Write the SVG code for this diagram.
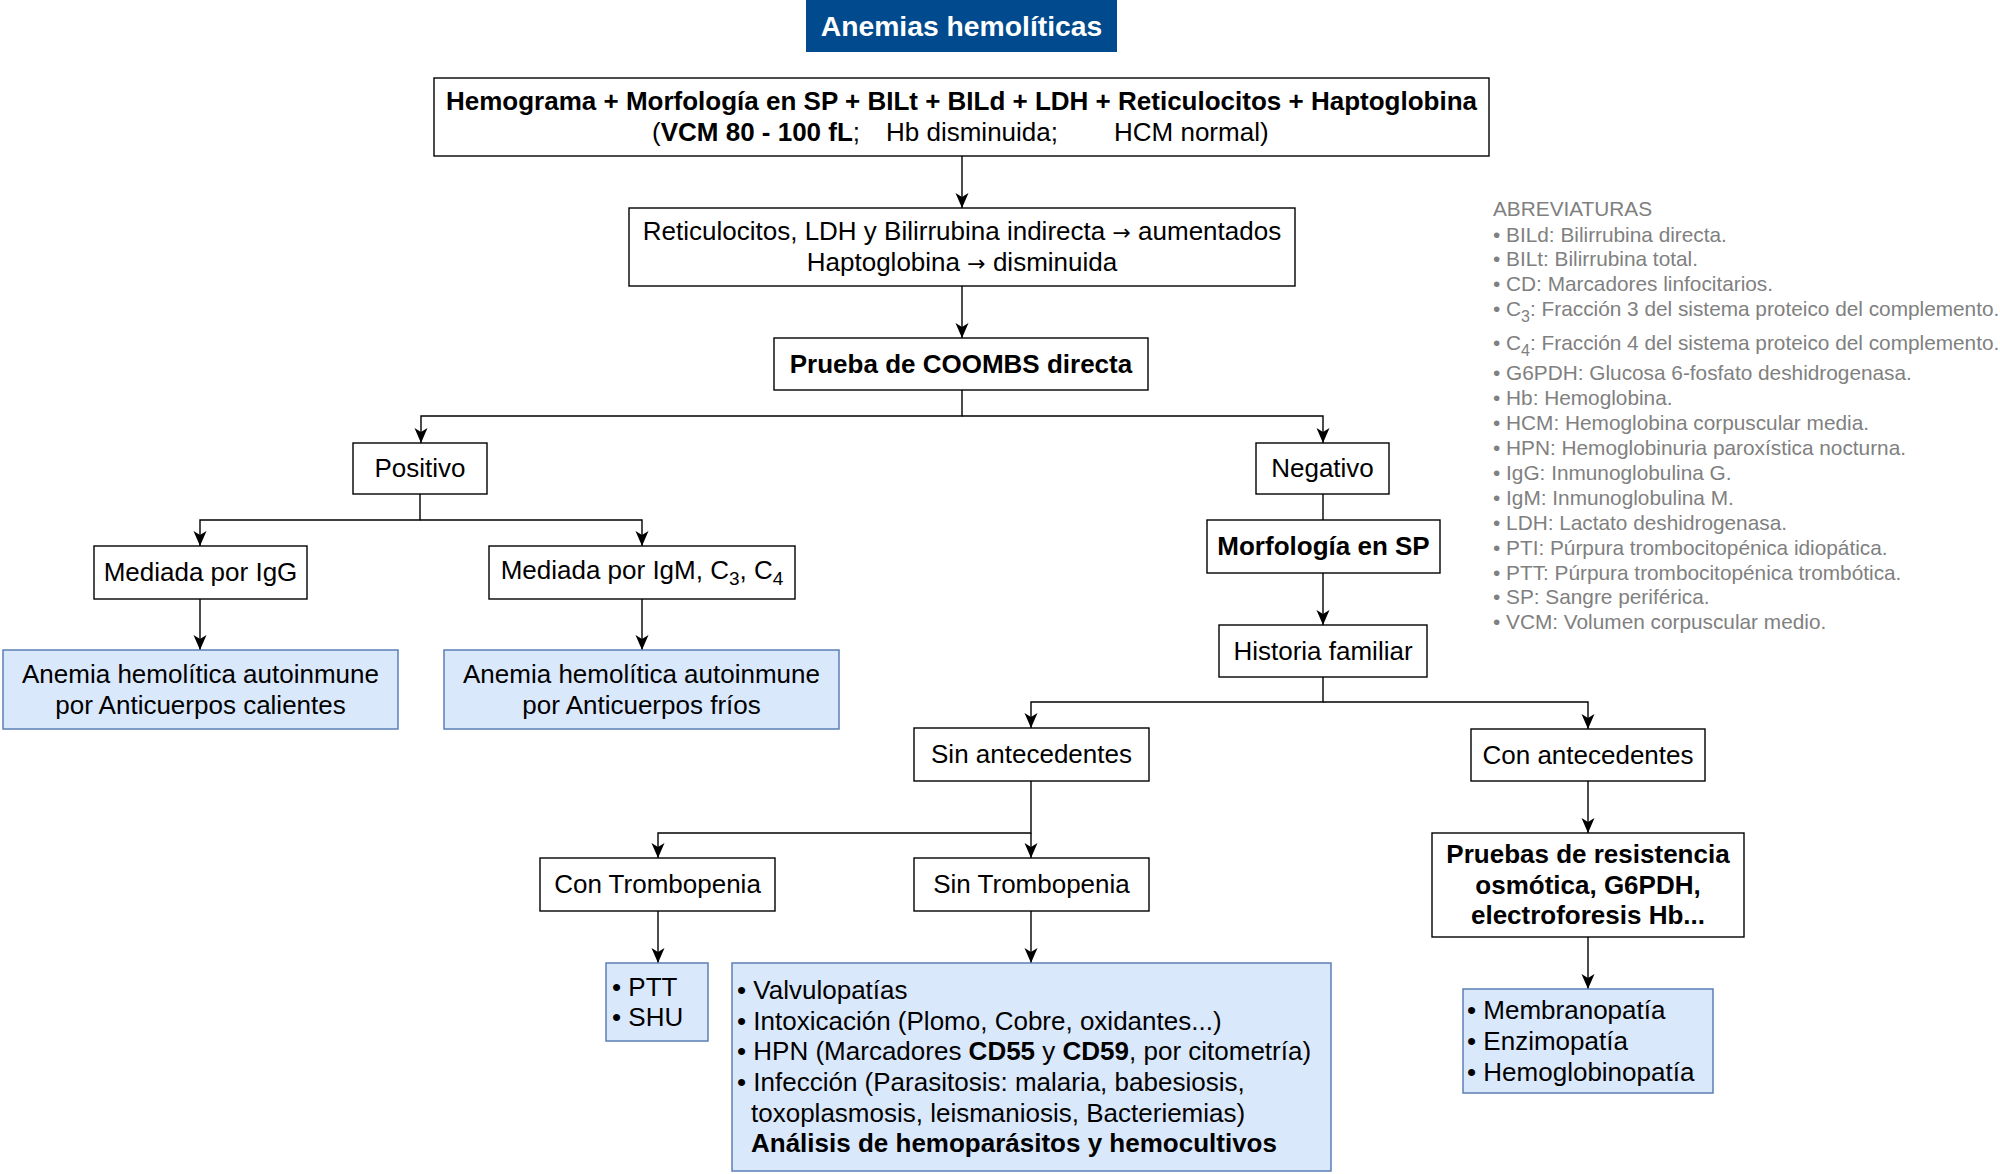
<svg xmlns="http://www.w3.org/2000/svg" width="2000" height="1174" viewBox="0 0 2000 1174">
<style>
text{font-family:"Liberation Sans",Arial,Helvetica,sans-serif;fill:#000}
.t{font-size:26px}
.c{text-anchor:middle}
.b{font-weight:bold}
.ar{font-family:"DejaVu Sans",sans-serif;font-size:22px}
.box{fill:#fff;stroke:#000;stroke-width:1.4}
.blue{fill:#dae8fc;stroke:#5b7fb5;stroke-width:1.5}
.ln{fill:none;stroke:#000;stroke-width:1.4}
.ab{font-size:20.8px;fill:#808080}
</style>
<defs>
<marker id="arr" markerUnits="userSpaceOnUse" markerWidth="16" markerHeight="14" refX="15" refY="6.5" orient="auto">
<path d="M0,0 L15,6.5 L0,13 L4,6.5 Z" fill="#000"/>
</marker>
</defs>
<rect width="2000" height="1174" fill="#fff"/>

<g id="connectors">
<path class="ln" d="M962,156 V208" marker-end="url(#arr)"/>
<path class="ln" d="M962,286 V338" marker-end="url(#arr)"/>
<path class="ln" d="M962,390 V416 H421 V443" marker-end="url(#arr)"/>
<path class="ln" d="M962,416 H1323 V443" marker-end="url(#arr)"/>
<path class="ln" d="M420,494 V520 H200 V546" marker-end="url(#arr)"/>
<path class="ln" d="M420,520 H642 V546" marker-end="url(#arr)"/>
<path class="ln" d="M200,599 V650" marker-end="url(#arr)"/>
<path class="ln" d="M642,599 V650" marker-end="url(#arr)"/>
<path class="ln" d="M1323,494 V520"/>
<path class="ln" d="M1323,573 V625" marker-end="url(#arr)"/>
<path class="ln" d="M1323,677 V702 H1031 V728" marker-end="url(#arr)"/>
<path class="ln" d="M1323,702 H1588 V729" marker-end="url(#arr)"/>
<path class="ln" d="M1031,781 V833 H658 V858" marker-end="url(#arr)"/>
<path class="ln" d="M1031,833 V858" marker-end="url(#arr)"/>
<path class="ln" d="M658,911 V963" marker-end="url(#arr)"/>
<path class="ln" d="M1031,911 V963" marker-end="url(#arr)"/>
<path class="ln" d="M1588,781 V833" marker-end="url(#arr)"/>
<path class="ln" d="M1588,937 V989" marker-end="url(#arr)"/>
</g>

<g id="title">
<rect x="806" y="0" width="311" height="52" fill="#004a8d"/>
<text x="961.5" y="36" class="c b" style="font-size:28.3px;fill:#fff">Anemias hemolíticas</text>
</g>

<g id="main">
<rect class="box" x="434" y="78" width="1055" height="78"/>
<text x="961.5" y="110" class="t c b">Hemograma + Morfología en SP + BILt + BILd + LDH + Reticulocitos + Haptoglobina</text>
<text y="141" class="t"><tspan x="652">(<tspan class="b">VCM 80 - 100 fL</tspan>;</tspan><tspan x="886">Hb disminuida;</tspan><tspan x="1114">HCM normal)</tspan></text>
</g>

<g id="labs">
<rect class="box" x="629" y="208" width="666" height="78"/>
<text x="962" y="240" class="t c">Reticulocitos, LDH y Bilirrubina indirecta <tspan class="ar">→</tspan> aumentados</text>
<text x="962" y="271" class="t c">Haptoglobina <tspan class="ar">→</tspan> disminuida</text>
</g>

<g id="coombs">
<rect class="box" x="774" y="338" width="374" height="52"/>
<text x="961" y="373" class="t c b">Prueba de COOMBS directa</text>
</g>

<g id="positivo">
<rect class="box" x="353" y="443" width="134" height="51"/>
<text x="420" y="477" class="t c">Positivo</text>
</g>

<g id="negativo">
<rect class="box" x="1256" y="443" width="133" height="51"/>
<text x="1322.5" y="477" class="t c">Negativo</text>
</g>

<g id="igg">
<rect class="box" x="94" y="546" width="213" height="53"/>
<text x="200.5" y="581" class="t c">Mediada por IgG</text>
</g>

<g id="igm">
<rect class="box" x="489" y="546" width="306" height="53"/>
<text x="642" y="579" class="t c">Mediada por IgM, C<tspan dy="6" style="font-size:19px">3</tspan><tspan dy="-6">, C</tspan><tspan dy="6" style="font-size:19px">4</tspan></text>
</g>

<g id="calientes">
<rect class="blue" x="3" y="650" width="395" height="79"/>
<text x="200.5" y="683" class="t c">Anemia hemolítica autoinmune</text>
<text x="200.5" y="714" class="t c">por Anticuerpos calientes</text>
</g>

<g id="frios">
<rect class="blue" x="444" y="650" width="395" height="79"/>
<text x="641.5" y="683" class="t c">Anemia hemolítica autoinmune</text>
<text x="641.5" y="714" class="t c">por Anticuerpos fríos</text>
</g>

<g id="morfologia">
<rect class="box" x="1207" y="520" width="233" height="53"/>
<text x="1323.5" y="555" class="t c b">Morfología en SP</text>
</g>

<g id="historia">
<rect class="box" x="1219" y="625" width="208" height="52"/>
<text x="1323" y="660" class="t c">Historia familiar</text>
</g>

<g id="sinant">
<rect class="box" x="914" y="728" width="235" height="53"/>
<text x="1031.5" y="763" class="t c">Sin antecedentes</text>
</g>

<g id="conant">
<rect class="box" x="1471" y="729" width="234" height="52"/>
<text x="1588" y="764" class="t c">Con antecedentes</text>
</g>

<g id="contromb">
<rect class="box" x="540" y="858" width="235" height="53"/>
<text x="657.5" y="893" class="t c">Con Trombopenia</text>
</g>

<g id="sintromb">
<rect class="box" x="914" y="858" width="235" height="53"/>
<text x="1031.5" y="893" class="t c">Sin Trombopenia</text>
</g>

<g id="ptt">
<rect class="blue" x="606" y="963" width="102" height="78"/>
<text x="612" y="996" class="t">• PTT</text>
<text x="612" y="1026" class="t">• SHU</text>
</g>

<g id="causas">
<rect class="blue" x="732" y="963" width="599" height="208"/>
<text x="737" y="999" class="t">• Valvulopatías</text>
<text x="737" y="1030" class="t">• Intoxicación (Plomo, Cobre, oxidantes...)</text>
<text x="737" y="1060" class="t">• HPN (Marcadores <tspan class="b">CD55</tspan> y <tspan class="b">CD59</tspan>, por citometría)</text>
<text x="737" y="1091" class="t">• Infección (Parasitosis: malaria, babesiosis,</text>
<text x="751" y="1122" class="t">toxoplasmosis, leismaniosis, Bacteriemias)</text>
<text x="751" y="1152" class="t b">Análisis de hemoparásitos y hemocultivos</text>
</g>

<g id="pruebas">
<rect class="box" x="1432" y="833" width="312" height="104"/>
<text x="1588" y="863" class="t c b">Pruebas de resistencia</text>
<text x="1588" y="894" class="t c b">osmótica, G6PDH,</text>
<text x="1588" y="924" class="t c b">electroforesis Hb...</text>
</g>

<g id="hereditarias">
<rect class="blue" x="1463" y="989" width="250" height="104"/>
<text x="1467" y="1019" class="t">• Membranopatía</text>
<text x="1467" y="1050" class="t">• Enzimopatía</text>
<text x="1467" y="1081" class="t">• Hemoglobinopatía</text>
</g>

<g id="abreviaturas">
<text x="1493" y="216" class="ab">ABREVIATURAS</text>
<text x="1493" y="242" class="ab">• BILd: Bilirrubina directa.</text>
<text x="1493" y="266" class="ab">• BILt: Bilirrubina total.</text>
<text x="1493" y="291" class="ab">• CD: Marcadores linfocitarios.</text>
<text x="1493" y="316" class="ab">• C<tspan dy="6" style="font-size:16px">3</tspan><tspan dy="-6">: Fracción 3 del sistema proteico del complemento.</tspan></text>
<text x="1493" y="350" class="ab">• C<tspan dy="6" style="font-size:16px">4</tspan><tspan dy="-6">: Fracción 4 del sistema proteico del complemento.</tspan></text>
<text x="1493" y="380" class="ab">• G6PDH: Glucosa 6-fosfato deshidrogenasa.</text>
<text x="1493" y="405" class="ab">• Hb: Hemoglobina.</text>
<text x="1493" y="430" class="ab">• HCM: Hemoglobina corpuscular media.</text>
<text x="1493" y="455" class="ab">• HPN: Hemoglobinuria paroxística nocturna.</text>
<text x="1493" y="480" class="ab">• IgG: Inmunoglobulina G.</text>
<text x="1493" y="505" class="ab">• IgM: Inmunoglobulina M.</text>
<text x="1493" y="530" class="ab">• LDH: Lactato deshidrogenasa.</text>
<text x="1493" y="555" class="ab">• PTI: Púrpura trombocitopénica idiopática.</text>
<text x="1493" y="580" class="ab">• PTT: Púrpura trombocitopénica trombótica.</text>
<text x="1493" y="604" class="ab">• SP: Sangre periférica.</text>
<text x="1493" y="629" class="ab">• VCM: Volumen corpuscular medio.</text>
</g>
</svg>
